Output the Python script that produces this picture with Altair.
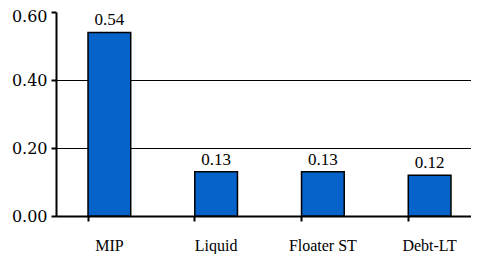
import altair as alt
import pandas as pd

categories = ["MIP", "Liquid", "Floater ST", "Debt-LT"]
values = [0.54, 0.13, 0.13, 0.12]
y_ticks = [0.0, 0.2, 0.4, 0.6]

df = pd.DataFrame({"cat": categories, "val": values})

FONT = "'Liberation Serif', serif"
YFONT = "'DejaVu Serif', serif"

x = alt.X("cat:N", sort=categories, title=None,
          scale=alt.Scale(paddingInner=0.6, paddingOuter=0.3, range=[0, 427]),
          axis=alt.Axis(labelAngle=0, labelFont=FONT, labelFontSize=16, labelColor="black",
                        labelPadding=16, domainColor="black", domainWidth=2,
                        tickColor="black", tickWidth=2, tickSize=5, bandPosition=0))
y = alt.Y("val:Q", title=None,
          scale=alt.Scale(domain=[0, 0.6], nice=False),
          axis=alt.Axis(values=y_ticks, format=".2f", labelFont=YFONT, labelFontSize=16,
                        labelColor="black", labelPadding=4,
                        labelOffset={"condition": {"test": "datum.value >= 0.6", "value": 4}, "value": 0},
                        domainColor="black", domainWidth=2, tickColor="black", tickWidth=2,
                        tickSize=5, grid=True, gridColor="black", gridWidth=1,
                        gridOpacity={"condition": {"test": "datum.value >= 0.6", "value": 0}, "value": 1}))

bars = alt.Chart(df).mark_bar(color="#0563C9", stroke="black", strokeWidth=1.5).encode(x=x, y=y)
labels = alt.Chart(df).mark_text(font=FONT, fontSize=17, color="black", baseline="bottom", dy=-3).encode(
    x=alt.X("cat:N", sort=categories), y="val:Q", text=alt.Text("val:Q", format=".2f"))

chart = (bars + labels).properties(
    width=415, height=204,
    padding={"left": 48, "top": 4, "right": 0, "bottom": 40},
    autosize=alt.AutoSizeParams(type="none"),
).configure_view(stroke=None).configure_axis(labelFontWeight="normal")

chart.save("out.html", embed_options={"renderer": "svg", "actions": False})
